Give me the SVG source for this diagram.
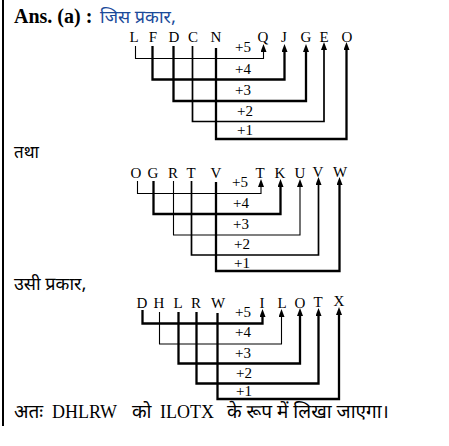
<svg xmlns="http://www.w3.org/2000/svg" width="449" height="446" viewBox="0 0 449 446">
<defs>
<marker id="ah" viewBox="0 0 8 6" refX="2" refY="3" markerWidth="8" markerHeight="6" markerUnits="userSpaceOnUse" orient="auto">
<path d="M0,0 L8,3 L0,6 z" fill="#000"/>
</marker>
<style>
.lt{font-family:"Liberation Serif","Times New Roman",serif;font-size:15px;fill:#000;text-anchor:middle}
.lb{font-family:"Liberation Serif","Times New Roman",serif;font-size:15px;fill:#000;text-anchor:middle}
.hi{font-family:"Noto Sans Devanagari","Noto Serif Devanagari","Lohit Devanagari","Mangal","FreeSerif",sans-serif;font-size:17px;fill:#000}
.ser{font-family:"Liberation Serif","Times New Roman",serif;font-size:18px;fill:#000}
.c{fill:none;stroke:#000;marker-end:url(#ah)}
.t1{stroke-width:1.1}
.t2{stroke-width:1.7}
.t3{stroke-width:2.3}
</style>
</defs>
<rect x="2" y="0" width="2" height="426" fill="#000"/>
<g id="header">
<text x="14" y="23" style="font-family:'Liberation Serif','Times New Roman',serif;font-size:20px;font-weight:bold">Ans. (a) :</text>
<text x="100" y="23" class="hi" style="fill:#1a4a9a;font-size:18px">जिस प्रकार,</text>
</g>
<g id="d1-source">
<text class="lt" x="134" y="42">L</text>
<text class="lt" x="153" y="42">F</text>
<text class="lt" x="174" y="42">D</text>
<text class="lt" x="193" y="42">C</text>
<text class="lt" x="216" y="42">N</text>
</g>
<g id="d1-target">
<text class="lt" x="263" y="42">Q</text>
<text class="lt" x="284" y="42">J</text>
<text class="lt" x="306" y="42">G</text>
<text class="lt" x="324" y="42">E</text>
<text class="lt" x="347" y="42">O</text>
</g>
<g id="d1-labels">
<text class="lb" x="243" y="52">+5</text>
<text class="lb" x="243" y="74">+4</text>
<text class="lb" x="243" y="95">+3</text>
<text class="lb" x="245" y="116">+2</text>
<text class="lb" x="245" y="135">+1</text>
</g>
<g id="d1-connectors">
<path class="c t1" d="M135.5,46 V58.5 H263.5 V50"/>
<path class="c t3" d="M152.5,46 V79.5 H284.5 V50"/>
<path class="c t3" d="M173.5,46 V101 H306 V50"/>
<path class="c t2" d="M192.5,46 V121.5 H324 V48"/>
<path class="c t3" d="M216,48 V139 H346.5 V48"/>
</g>
<text x="14" y="158" class="hi">तथा</text>
<g id="d2-source">
<text class="lt" x="136" y="178">O</text>
<text class="lt" x="153" y="178">G</text>
<text class="lt" x="173" y="178">R</text>
<text class="lt" x="191" y="178">T</text>
<text class="lt" x="216" y="178">V</text>
</g>
<g id="d2-target">
<text class="lt" x="260" y="178">T</text>
<text class="lt" x="280" y="178">K</text>
<text class="lt" x="300" y="178">U</text>
<text class="lt" x="318" y="177">V</text>
<text class="lt" x="340" y="177">W</text>
</g>
<g id="d2-labels">
<text class="lb" x="240" y="187">+5</text>
<text class="lb" x="241" y="208">+4</text>
<text class="lb" x="241" y="229">+3</text>
<text class="lb" x="242" y="249">+2</text>
<text class="lb" x="242" y="268">+1</text>
</g>
<g id="d2-connectors">
<path class="c t1" d="M137.5,181 V193.5 H261 V185"/>
<path class="c t3" d="M153.5,181 V214 H280.5 V185"/>
<path class="c t1" d="M173.5,181 V235 H300 V185"/>
<path class="c t2" d="M191.5,181 V255 H318.5 V183"/>
<path class="c t3" d="M216,182 V271 H339.5 V183"/>
</g>
<text x="14" y="290" class="hi" style="font-size:18px">उसी प्रकार,</text>
<g id="d3-source">
<text class="lt" x="142" y="308">D</text>
<text class="lt" x="159" y="308">H</text>
<text class="lt" x="178" y="308">L</text>
<text class="lt" x="196" y="308">R</text>
<text class="lt" x="218" y="308">W</text>
</g>
<g id="d3-target">
<text class="lt" x="262" y="308">I</text>
<text class="lt" x="282" y="308">L</text>
<text class="lt" x="300" y="308">O</text>
<text class="lt" x="318" y="307">T</text>
<text class="lt" x="339" y="306">X</text>
</g>
<g id="d3-labels">
<text class="lb" x="243" y="317">+5</text>
<text class="lb" x="243" y="337">+4</text>
<text class="lb" x="243" y="358">+3</text>
<text class="lb" x="244" y="378">+2</text>
<text class="lb" x="244" y="396">+1</text>
</g>
<g id="d3-connectors">
<path class="c t3" d="M142.5,310 V323.5 H262.5 V315"/>
<path class="c t1" d="M159.5,312 V344 H281.5 V315"/>
<path class="c t3" d="M178.5,312 V363.5 H300 V314"/>
<path class="c t3" d="M196.5,312 V383.5 H318.5 V314"/>
<path class="c t3" d="M217.5,313 V399 H339 V313"/>
</g>
<g id="footer">
<text x="14" y="418" class="hi" style="font-size:19px">अतः</text>
<text x="52" y="418" class="ser">DHLRW</text>
<text x="132" y="418" class="hi" style="font-size:19px">को</text>
<text x="160" y="418" class="ser">ILOTX</text>
<text x="227" y="418" class="hi" style="font-size:19px">के रूप में लिखा जाएगा।</text>
</g>
</svg>
